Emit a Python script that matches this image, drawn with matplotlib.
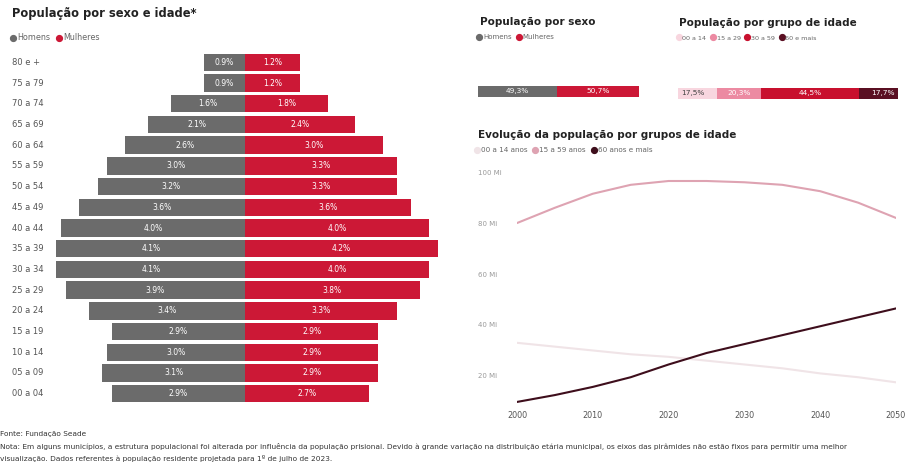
import numpy as np
import matplotlib
matplotlib.use("Agg")
import matplotlib.pyplot as plt
from matplotlib.lines import Line2D
from matplotlib.transforms import blended_transform_factory

plt.rcParams['font.family'] = ['DejaVu Sans']

# =========================================================
# DATA
# =========================================================

age_groups = ["80 e +", "75 a 79", "70 a 74", "65 a 69", "60 a 64", "55 a 59",
              "50 a 54", "45 a 49", "40 a 44", "35 a 39", "30 a 34", "25 a 29",
              "20 a 24", "15 a 19", "10 a 14", "05 a 09", "00 a 04"]
men_pct = [0.9, 0.9, 1.6, 2.1, 2.6, 3.0, 3.2, 3.6, 4.0, 4.1, 4.1, 3.9, 3.4, 2.9, 3.0, 3.1, 2.9]
women_pct = [1.2, 1.2, 1.8, 2.4, 3.0, 3.3, 3.3, 3.6, 4.0, 4.2, 4.0, 3.8, 3.3, 2.9, 2.9, 2.9, 2.7]

sex_labels = ["Homens", "Mulheres"]
sex_share = [49.3, 50.7]

group_labels = ["00 a 14", "15 a 29", "30 a 59", "60 e mais"]
group_share = [17.5, 20.3, 44.5, 17.7]

years = [2000, 2005, 2010, 2015, 2020, 2025, 2030, 2035, 2040, 2045, 2050]
pop_00_14 = [33.0, 31.5, 30.0, 28.5, 27.5, 26.0, 24.5, 23.0, 21.0, 19.5, 17.5]
pop_15_59 = [80.0, 86.0, 91.5, 95.0, 96.5, 96.5, 96.0, 95.0, 92.5, 88.0, 82.0]
pop_60_mais = [9.8, 12.5, 15.7, 19.5, 24.5, 29.0, 32.5, 36.0, 39.5, 43.0, 46.5]
line_labels = ["00 a 14 anos", "15 a 59 anos", "60 anos e mais"]

# =========================================================
# STYLE
# =========================================================

W, H = 910, 470
GRAY = "#6b6b6b"
RED = "#cc1836"
TXT = "#222222"
group_colors = ["#f8d6df", "#ec8aa2", "#c8102e", "#5a0f22"]
line_colors = ["#f0e4e7", "#dea3b2", "#3e0e1c"]


def rect(x0, y0, x1, y1):
    # pixel box -> figure fraction
    return [x0 / W, 1 - y1 / H, (x1 - x0) / W, (y1 - y0) / H]


def fx(x):
    return x / W


def fy(y):
    return 1 - y / H


def dot_legend(labels, colors, x, y, fs=5.2):
    handles = [Line2D([], [], marker="o", linestyle="", markersize=4.2,
                      markerfacecolor=c, markeredgecolor=c) for c in colors]
    fig.legend(handles, labels, loc="center left", bbox_to_anchor=(fx(x), fy(y)),
               ncol=len(labels), frameon=False, fontsize=fs, handletextpad=0.1,
               columnspacing=0.6, handlelength=0.9, borderpad=0, borderaxespad=0,
               labelcolor="#666666")


fig = plt.figure(figsize=(W / 100, H / 100), dpi=100)

# =========================================================
# PYRAMID
# =========================================================

fig.text(fx(12), fy(14), "População por sexo e idade*", fontsize=8.3,
         fontweight="bold", color=TXT, va="center")
dot_legend(sex_labels, [GRAY, RED], 9, 38, fs=5.8)

ax = fig.add_axes(rect(50, 52, 440, 404))
ypos = np.arange(len(age_groups))
ax.barh(ypos, [-v for v in men_pct], height=0.84, color=GRAY)
ax.barh(ypos, women_pct, height=0.84, color=RED)
for y, m, w in zip(ypos, men_pct, women_pct):
    ax.text(-m / 2, y, f"{m:.1f}%", color="white", fontsize=5.5, ha="center", va="center")
    ax.text(w / 2, y, f"{w:.1f}%", color="white", fontsize=5.5, ha="center", va="center")
ax.set_xlim(-4.24, 4.24)
ax.set_ylim(len(age_groups) - 0.5, -0.5)
ax.axis("off")
tr = blended_transform_factory(fig.transFigure, ax.transData)
for y, lab in zip(ypos, age_groups):
    ax.text(fx(12), y, lab, transform=tr, fontsize=6, color="#555555",
            ha="left", va="center")

# =========================================================
# SEX BAR
# =========================================================

fig.text(fx(480), fy(22), "População por sexo", fontsize=7.5,
         fontweight="bold", color=TXT, va="center")
dot_legend(sex_labels, [GRAY, RED], 476, 37, fs=5)

axs = fig.add_axes(rect(478, 86, 639, 97))
left = 0
for v, c in zip(sex_share, [GRAY, RED]):
    axs.barh(0, v, left=left, height=1, color=c)
    axs.text(left + v / 2, 0, f"{v:.1f}%".replace(".", ","), color="white",
             fontsize=5.3, ha="center", va="center")
    left += v
axs.set_xlim(0, sum(sex_share))
axs.set_ylim(-0.5, 0.5)
axs.axis("off")

# =========================================================
# AGE GROUP BAR
# =========================================================

fig.text(fx(679), fy(23), "População por grupo de idade", fontsize=7.5,
         fontweight="bold", color=TXT, va="center")
dot_legend(group_labels, group_colors, 676, 38, fs=4.6)

axg = fig.add_axes(rect(678, 88, 898, 99))
left = 0
for i, (v, c) in enumerate(zip(group_share, group_colors)):
    axg.barh(0, v, left=left, height=1, color=c)
    tc = "#444444" if i == 0 else "white"
    axg.text(left + 1.5 if i == 0 else (left + v - 1.5 if i == 3 else left + v / 2), 0,
             f"{v:.1f}%".replace(".", ","), color=tc, fontsize=5.3,
             ha="left" if i == 0 else ("right" if i == 3 else "center"), va="center")
    left += v
axg.set_xlim(0, sum(group_share))
axg.set_ylim(-0.5, 0.5)
axg.axis("off")

# =========================================================
# LINE CHART
# =========================================================

fig.text(fx(478), fy(135), "Evolução da população por grupos de idade", fontsize=7.5,
         fontweight="bold", color=TXT, va="center")
dot_legend(line_labels, line_colors, 474, 150, fs=5.2)

axl = fig.add_axes(rect(517, 168, 896, 405))
for series, c in zip([pop_00_14, pop_15_59, pop_60_mais], line_colors):
    axl.plot(years, series, color=c, linewidth=1.5, solid_capstyle="round")
axl.set_xlim(2000, 2050)
axl.set_ylim(8.6, 101.6)
axl.set_yticks([20, 40, 60, 80, 100])
axl.set_yticklabels(["20 Mi", "40 Mi", "60 Mi", "80 Mi", "100 Mi"], ha="left")
axl.set_xticks([2000, 2010, 2020, 2030, 2040, 2050])
axl.tick_params(axis="y", length=0, pad=28, labelsize=5, labelcolor="#9a9a9a")
axl.tick_params(axis="x", length=0, pad=4, labelsize=5.8, labelcolor="#555555")
for s in axl.spines.values():
    s.set_visible(False)

# =========================================================
# FOOTER
# =========================================================

fig.text(fx(0), fy(434), "Fonte: Fundação Seade", fontsize=5.3, color="#333333", va="center")
fig.text(fx(0), fy(446),
         "Nota: Em alguns municípios, a estrutura populacional foi alterada por influência da população "
         "prisional. Devido à grande variação na distribuição etária municipal, os eixos das pirâmides "
         "não estão fixos para permitir uma melhor",
         fontsize=5.3, color="#333333", va="center")
fig.text(fx(0), fy(458),
         "visualização. Dados referentes à população residente projetada para 1º de julho de 2023.",
         fontsize=5.3, color="#333333", va="center")

fig.savefig("out.png", dpi=100)
